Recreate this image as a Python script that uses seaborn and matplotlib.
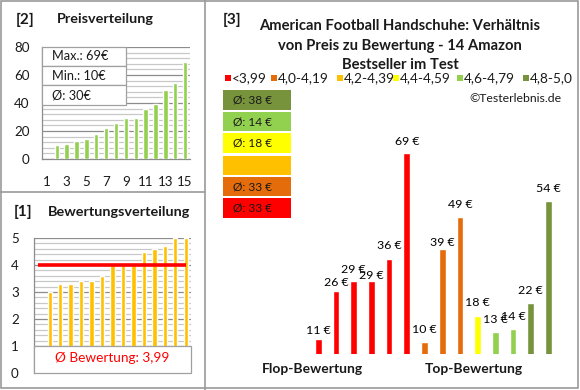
import numpy as np
import pandas as pd
import matplotlib
matplotlib.use("Agg")
import matplotlib.pyplot as plt
from matplotlib.patches import Rectangle
from matplotlib.lines import Line2D
from matplotlib.ticker import MultipleLocator
import seaborn as sns

# ---------------- data ----------------
slot_labels = ["1", "2", "3", "4", "5", "6", "7", "8", "9", "10", "11", "12", "13", "14", "15"]
bar_slots = ["2", "3", "4", "5", "6", "7", "8", "9", "10", "11", "12", "13", "14", "15"]
prices_sorted = [10, 11, 13, 14, 18, 22, 26, 29, 29, 36, 39, 49, 54, 69]
ratings_sorted = [3.0, 3.3, 3.3, 3.4, 3.4, 3.6, 4.0, 4.0, 4.0, 4.5, 4.6, 4.7, 5.0, 5.0]

group_labels = ["<3,99", "4,0-4,19", "4,2-4,39", "4,4-4,59", "4,6-4,79", "4,8-5,0"]
group_colors = ["#FF0000", "#E46C0A", "#FFC000", "#FFFF00", "#92D050", "#77933C"]

p3_prices = [11, 26, 29, 29, 36, 69, 10, 39, 49, 18, 13, 14, 22, 54]
p3_groups = ["<3,99", "<3,99", "<3,99", "<3,99", "<3,99", "<3,99",
             "4,0-4,19", "4,0-4,19", "4,0-4,19",
             "4,4-4,59",
             "4,6-4,79", "4,6-4,79",
             "4,8-5,0", "4,8-5,0"]

# ---------------- style ----------------
sns.set_style("white")
plt.rcParams['font.family'] = ['Lato', 'DejaVu Sans']
W, H = 580, 390
fig = plt.figure(figsize=(W / 100, H / 100), dpi=100)
fig.patch.set_facecolor("white")

def fx(x):
    return x / W

def fy(y):
    return 1 - y / H

def ax_at(x0, y0, x1, y1):
    return fig.add_axes([fx(x0), fy(y1), (x1 - x0) / W, (y1 - y0) / H])

GRID_MAJ = "#8C8C8C"
GRID_MIN = "#C8C8C8"
FRAME = "#9A9A9A"
TXT = "#1A1A1A"
TITLE_FS = 10.4
TICK_FS = 9.6

# ---------------- frames ----------------
fig.add_artist(Rectangle((fx(1), fy(388)), (577) / W, 387 / H, transform=fig.transFigure,
                         fill=False, ec=FRAME, lw=1.2))
fig.add_artist(Line2D([fx(205), fx(205)], [fy(0), fy(390)], transform=fig.transFigure, color=FRAME, lw=1.2))
fig.add_artist(Line2D([fx(0), fx(205)], [fy(192), fy(192)], transform=fig.transFigure, color=FRAME, lw=1.2))

# ---------------- panel [2] Preisverteilung ----------------
ax2 = ax_at(42, 47, 190, 159)
df2 = pd.DataFrame({"slot": bar_slots, "price": prices_sorted})
sns.barplot(data=df2, x="slot", y="price", order=slot_labels, color="#92D050",
            saturation=1, width=0.45, ax=ax2, zorder=3)
ax2.set_xlim(-0.5, 14.5)
ax2.set_ylim(0, 80)
ax2.yaxis.set_major_locator(MultipleLocator(20))
ax2.yaxis.set_minor_locator(MultipleLocator(4))
ax2.grid(False)
ax2.yaxis.grid(True, which="minor", color=GRID_MIN, lw=0.9)
ax2.yaxis.grid(True, which="major", color=GRID_MAJ, lw=0.9)
ax2.set_axisbelow(True)
ax2.set_xticks(range(0, 15, 2))
ax2.set_xticklabels(slot_labels[::2])
ax2.tick_params(axis="x", length=0, pad=12, labelsize=TICK_FS, labelcolor=TXT)
ax2.tick_params(axis="y", which="both", length=0, pad=9, labelsize=TICK_FS, labelcolor=TXT)
ax2.set_xlabel("")
ax2.set_ylabel("")
for s in ["top", "right"]:
    ax2.spines[s].set_visible(False)
for s in ["left", "bottom"]:
    ax2.spines[s].set_color(GRID_MAJ)
    ax2.spines[s].set_linewidth(0.9)

# info box
rows2 = [("Max.: %d€" % max(prices_sorted), 47, 66),
         ("Min.: %d€" % min(prices_sorted), 66, 85),
         ("Ø: %d€" % int(np.floor(np.mean(prices_sorted) + 0.5)), 85, 105)]
for txt, y0, y1 in rows2:
    fig.add_artist(Rectangle((fx(42), fy(y1)), 84 / W, (y1 - y0) / H, transform=fig.transFigure,
                             fc="white", ec="#A0A0A0", lw=0.9, zorder=5))
    fig.text(fx(52), fy((y0 + y1) / 2), txt, ha="left", va="center", fontsize=9.2, color=TXT, zorder=6)

fig.text(fx(16), fy(20), "[2]", ha="left", va="center", fontsize=11, fontweight="bold", color=TXT)
fig.text(fx(57), fy(19), "Preisverteilung", ha="left", va="center", fontsize=TITLE_FS,
         fontweight="bold", color=TXT)

# ---------------- panel [1] Bewertungsverteilung ----------------
ax1 = ax_at(34, 238, 191, 373)
df1 = pd.DataFrame({"slot": bar_slots, "rating": ratings_sorted})
sns.barplot(data=df1, x="slot", y="rating", order=slot_labels, color="#FFC000",
            saturation=1, width=0.42, ax=ax1, zorder=3)
ax1.set_xlim(-0.5, 14.5)
ax1.set_ylim(0, 5)
ax1.yaxis.set_major_locator(MultipleLocator(1))
ax1.yaxis.set_minor_locator(MultipleLocator(0.2))
ax1.grid(False)
ax1.yaxis.grid(True, which="minor", color=GRID_MIN, lw=0.9)
ax1.yaxis.grid(True, which="major", color=GRID_MAJ, lw=0.9)
ax1.set_axisbelow(True)
ax1.set_xticks([])
ax1.tick_params(axis="y", which="major", length=4, width=0.9, color=GRID_MAJ, pad=7,
                labelsize=TICK_FS, labelcolor=TXT)
ax1.tick_params(axis="y", which="minor", length=0)
ax1.set_xlabel("")
ax1.set_ylabel("")
for s in ["top", "right", "bottom"]:
    ax1.spines[s].set_visible(False)
ax1.spines["left"].set_color(GRID_MAJ)
ax1.spines["left"].set_linewidth(0.9)
mean_rating = np.mean(ratings_sorted)
ax1.plot([-0.12, 14.02], [mean_rating, mean_rating], color="#FF0000", lw=2.6, zorder=4,
         solid_capstyle="butt")
ax1.add_patch(Rectangle((-0.5, 0.0), 15, 1.0, fc="white", ec="#A0A0A0", lw=0.9, zorder=5, clip_on=False))
ax1.text(7.0, 0.55, "Ø Bewertung: " + ("%.2f" % mean_rating).replace(".", ","),
         ha="center", va="center", fontsize=9.8, color="#FF0000", zorder=6)

fig.text(fx(14), fy(212), "[1]", ha="left", va="center", fontsize=11, fontweight="bold", color=TXT)
fig.text(fx(48), fy(212), "Bewertungsverteilung", ha="left", va="center", fontsize=TITLE_FS,
         fontweight="bold", color=TXT)

# ---------------- panel [3] ----------------
ax3 = ax_at(309.45, 100, 557.25, 354.3)
idx = [str(i) for i in range(len(p3_prices))]
df3 = pd.DataFrame({"idx": idx, "price": p3_prices, "group": p3_groups})
pal = dict(zip(group_labels, group_colors))
sns.barplot(data=df3, x="idx", y="price", hue="group", hue_order=group_labels, palette=pal,
            dodge=False, saturation=1, width=0.38, legend=False, ax=ax3)
ax3.set_xlim(-0.5, len(p3_prices) - 0.5)
ax3.set_ylim(6.1, 6.1 + 254.3 / 3.195)
ax3.axis("off")
label_dy_px = [8.3, 8.3, 11.3, 5.6, 13, 12, 12.7, 6.7, 12.7, 13.3, 12.7, 13, 13, 12.7]
for i, (v, dy) in enumerate(zip(p3_prices, label_dy_px)):
    ax3.annotate("%d €" % v, (i, v), xytext=(0, dy * 0.72), textcoords="offset points",
                 ha="center", va="center", fontsize=8.9, color="black", annotation_clip=False)

fig.text(fx(223), fy(20), "[3]", ha="left", va="center", fontsize=11, fontweight="bold", color=TXT)
for line, yy in zip(["American Football Handschuhe: Verhältnis",
                     "von Preis zu Bewertung - 14 Amazon",
                     "Bestseller im Test"], [26, 46, 65]):
    fig.text(fx(400), fy(yy), line, ha="center", va="center", fontsize=10.6, fontweight="bold", color=TXT)

# legend
sq_x = [225, 271, 337, 393, 457, 523]
for lab, col, sx in zip(group_labels, group_colors, sq_x):
    fig.add_artist(Rectangle((fx(sx), fy(81)), 6 / W, 6 / H, transform=fig.transFigure,
                             fc=col, ec="none"))
    fig.text(fx(sx + 7), fy(78), lab, ha="left", va="center", fontsize=9.8, color=TXT)

fig.text(fx(562), fy(98), "©Testerlebnis.de", ha="right", va="center", fontsize=8.8, color=TXT)

# average boxes
box_rows = [(90, 110), (112, 131), (133, 153), (156, 175), (177, 196), (198, 218)]
for lab, col, (y0, y1) in zip(group_labels[::-1], group_colors[::-1], box_rows):
    vals = [p for p, g in zip(p3_prices, p3_groups) if g == lab]
    fig.add_artist(Rectangle((fx(223), fy(y1)), 68 / W, (y1 - y0) / H, transform=fig.transFigure,
                             fc=col, ec="none"))
    if vals:
        m = int(np.floor(np.mean(vals) + 0.5))
        fig.text(fx(233), fy((y0 + y1) / 2), "Ø: %d €" % m, ha="left", va="center",
                 fontsize=8.6, color=TXT)

fig.text(fx(312), fy(369), "Flop-Bewertung", ha="center", va="center", fontsize=10.0,
         fontweight="bold", color=TXT)
fig.text(fx(474), fy(369), "Top-Bewertung", ha="center", va="center", fontsize=10.0,
         fontweight="bold", color=TXT)

fig.savefig("out.png", dpi=100, facecolor="white")
